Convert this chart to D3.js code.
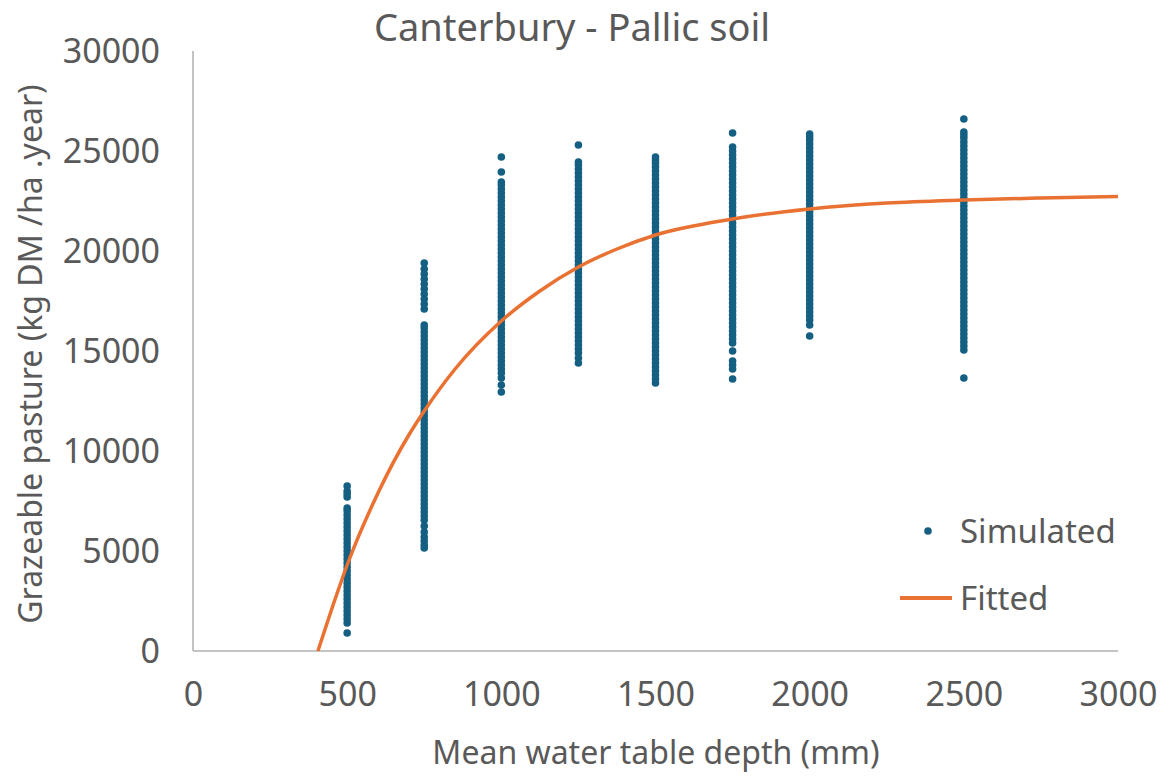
<!DOCTYPE html>
<html>
<head>
<meta charset="utf-8">
<script src="https://cdn.jsdelivr.net/npm/d3@7"></script>
<style>
  html, body { margin: 0; padding: 0; background: #fff; }
  svg { display: block; }
  text { font-family: "Noto Sans", "Open Sans", sans-serif; fill: #595959; }
</style>
</head>
<body>
<svg id="chart" width="1167" height="776"></svg>
<script>
// ---------- data ----------
const chartTitle = "Canterbury - Pallic soil";
const xTitle = "Mean water table depth (mm)";
const yTitle = "Grazeable pasture (kg DM /ha .year)";

const xTicks = [0, 500, 1000, 1500, 2000, 2500, 3000];
const yTicks = [0, 5000, 10000, 15000, 20000, 25000, 30000];

const depthLevels = [500, 750, 1000, 1250, 1500, 1750, 2000, 2500];

// simulated pasture values (kg DM/ha.year) per depth level
const sim500 = [900, 1400, 1600, 1800, 2000, 2200, 2400, 2600, 2800, 3000, 3200, 3400, 3600,
  3800, 4000, 4200, 4400, 4600, 4800, 5000, 5200, 5400, 5600, 5800, 6000, 6200, 6400, 6600,
  6800, 7000, 7150, 7700, 7850, 8000, 8250];
const sim750 = [5150, 5300, 5500, 5700, 5950, 6250, 6550, 6750, 6950, 7150, 7350, 7550, 7750,
  7950, 8150, 8350, 8550, 8750, 8950, 9150, 9350, 9550, 9750, 9950, 10150, 10350, 10550, 10750,
  10950, 11150, 11350, 11550, 11750, 11950, 12150, 12350, 12550, 12750, 12950, 13150, 13350,
  13550, 13750, 13950, 14150, 14350, 14550, 14750, 14950, 15150, 15350, 15550, 15750, 15950,
  16150, 16300, 17100, 17350, 17600, 17850, 18100, 18350, 18600, 18850, 19100, 19400];
const sim1000 = [12950, 13300, 13650, 13900, 14100, 14300, 14500, 14700, 14900, 15100, 15300,
  15500, 15700, 15900, 16100, 16300, 16500, 16700, 16900, 17100, 17300, 17500, 17700, 17900,
  18100, 18300, 18500, 18700, 18900, 19100, 19300, 19500, 19700, 19900, 20100, 20300, 20500,
  20700, 20900, 21100, 21300, 21500, 21700, 21900, 22100, 22300, 22500, 22700, 22900, 23100,
  23300, 23450, 23950, 24700];
const sim1250 = [14400, 14650, 14900, 15100, 15300, 15500, 15700, 15900, 16100, 16300, 16500,
  16700, 16900, 17100, 17300, 17500, 17700, 17900, 18100, 18300, 18500, 18700, 18900, 19100,
  19300, 19500, 19700, 19900, 20100, 20300, 20500, 20700, 20900, 21100, 21300, 21500, 21700,
  21900, 22100, 22300, 22500, 22700, 22900, 23100, 23300, 23500, 23700, 23900, 24100, 24300,
  24450, 25300];
const sim1500 = [13400, 13600, 13800, 14000, 14200, 14400, 14600, 14800, 15000, 15200, 15400,
  15600, 15800, 16000, 16200, 16400, 16600, 16800, 17000, 17200, 17400, 17600, 17800, 18000,
  18200, 18400, 18600, 18800, 19000, 19200, 19400, 19600, 19800, 20000, 20200, 20400, 20600,
  20800, 21000, 21200, 21400, 21600, 21800, 22000, 22200, 22400, 22600, 22800, 23000, 23200,
  23400, 23600, 23800, 24000, 24200, 24400, 24550, 24700];
const sim1750 = [13600, 14100, 14300, 14500, 15000, 15400, 15600, 15800, 16000, 16200, 16400,
  16600, 16800, 17000, 17200, 17400, 17600, 17800, 18000, 18200, 18400, 18600, 18800, 19000,
  19200, 19400, 19600, 19800, 20000, 20200, 20400, 20600, 20800, 21000, 21200, 21400, 21600,
  21800, 22000, 22200, 22400, 22600, 22800, 23000, 23200, 23400, 23600, 23800, 24000, 24200,
  24400, 24600, 24800, 25000, 25200, 25900];
const sim2000 = [15750, 16300, 16550, 16750, 16950, 17150, 17350, 17550, 17750, 17950, 18150,
  18350, 18550, 18750, 18950, 19150, 19350, 19550, 19750, 19950, 20150, 20350, 20550, 20750,
  20950, 21150, 21350, 21550, 21750, 21950, 22150, 22350, 22550, 22750, 22950, 23150, 23350,
  23550, 23750, 23950, 24150, 24350, 24550, 24750, 24950, 25150, 25350, 25550, 25700, 25850];
const sim2500 = [13650, 15050, 15250, 15450, 15650, 15850, 16050, 16250, 16450, 16650, 16850,
  17050, 17250, 17450, 17650, 17850, 18050, 18250, 18450, 18650, 18850, 19050, 19250, 19450,
  19650, 19850, 20050, 20250, 20450, 20650, 20850, 21050, 21250, 21450, 21650, 21850, 22050,
  22250, 22450, 22650, 22850, 23050, 23250, 23450, 23650, 23850, 24050, 24250, 24450, 24650,
  24850, 25050, 25250, 25450, 25650, 25800, 25950, 26600];

const simulatedByDepth = [sim500, sim750, sim1000, sim1250, sim1500, sim1750, sim2000, sim2500];

// fitted curve
const fitDepth = [405, 450, 500, 600, 700, 750, 850, 1000, 1125, 1250, 1375, 1500, 1750, 2000, 2250, 2500, 2750, 3000];
const fitValue = [0, 2100, 4300, 7900, 10800, 12000, 14100, 16500, 18000, 19200, 20100, 20800, 21600, 22100, 22400, 22550, 22650, 22720];

// ---------- chart ----------
const svg = d3.select("#chart");
const plot = { left: 193, right: 1118, top: 51, bottom: 651 };

const x = d3.scaleLinear().domain([0, 3000]).range([plot.left, plot.right]);
const y = d3.scaleLinear().domain([0, 30000]).range([plot.bottom, plot.top]);

const axisColor = "#c4c4c4";
const pointColor = "#156082";
const lineColor = "#E97132";
const tickFont = 34;

// axis lines
svg.append("line")
  .attr("x1", x(0)).attr("x2", x(0))
  .attr("y1", y(0)).attr("y2", y(30000))
  .attr("stroke", axisColor).attr("stroke-width", 2);
svg.append("line")
  .attr("x1", x(0)).attr("x2", x(3000))
  .attr("y1", y(0)).attr("y2", y(0))
  .attr("stroke", axisColor).attr("stroke-width", 2);

// tick labels via d3 axes (lines hidden)
const yAxis = svg.append("g")
  .attr("transform", `translate(${plot.left - 33},0)`)
  .call(d3.axisLeft(y).tickValues(yTicks).tickSize(0).tickPadding(0).tickFormat(d3.format("d")));
yAxis.select(".domain").remove();
yAxis.selectAll("text")
  .attr("font-size", tickFont).attr("fill", "#595959")
  .attr("font-family", "Noto Sans").attr("dy", "0.35em");

const xAxis = svg.append("g")
  .attr("transform", `translate(0,${plot.bottom + 31})`)
  .call(d3.axisBottom(x).tickValues(xTicks).tickSize(0).tickPadding(0).tickFormat(d3.format("d")));
xAxis.select(".domain").remove();
xAxis.selectAll("text")
  .attr("font-size", tickFont).attr("fill", "#595959")
  .attr("font-family", "Noto Sans").attr("dy", "0.71em");

// simulated points
const pts = [];
depthLevels.forEach((d, i) => simulatedByDepth[i].forEach(v => pts.push({ x: d, y: v })));
svg.append("g").selectAll("circle")
  .data(pts).join("circle")
  .attr("cx", d => x(d.x)).attr("cy", d => y(d.y))
  .attr("r", 3.8).attr("fill", pointColor);

// fitted line
const fitData = fitDepth.map((d, i) => ({ x: d, y: fitValue[i] }));
svg.append("path")
  .datum(fitData)
  .attr("fill", "none").attr("stroke", lineColor).attr("stroke-width", 3.5)
  .attr("d", d3.line().x(d => x(d.x)).y(d => y(d.y)).curve(d3.curveMonotoneX));

// title
svg.append("text")
  .attr("x", 572).attr("y", 41)
  .attr("text-anchor", "middle").attr("font-size", 38)
  .text(chartTitle);

// axis titles
svg.append("text")
  .attr("x", 656).attr("y", 764)
  .attr("text-anchor", "middle").attr("font-size", 32)
  .text(xTitle);
svg.append("text")
  .attr("transform", `translate(42,${(plot.top + plot.bottom) / 2 + 3}) rotate(-90)`)
  .attr("text-anchor", "middle").attr("font-size", 32)
  .text(yTitle);

// legend
const legend = svg.append("g");
legend.append("circle").attr("cx", 928).attr("cy", 531).attr("r", 3.8).attr("fill", pointColor);
legend.append("text").attr("x", 960).attr("y", 531).attr("dy", "0.35em")
  .attr("font-size", 33).text("Simulated");
legend.append("line").attr("x1", 900).attr("x2", 952).attr("y1", 598).attr("y2", 598)
  .attr("stroke", lineColor).attr("stroke-width", 4);
legend.append("text").attr("x", 960).attr("y", 598).attr("dy", "0.35em")
  .attr("font-size", 33).text("Fitted");
</script>
</body>
</html>
